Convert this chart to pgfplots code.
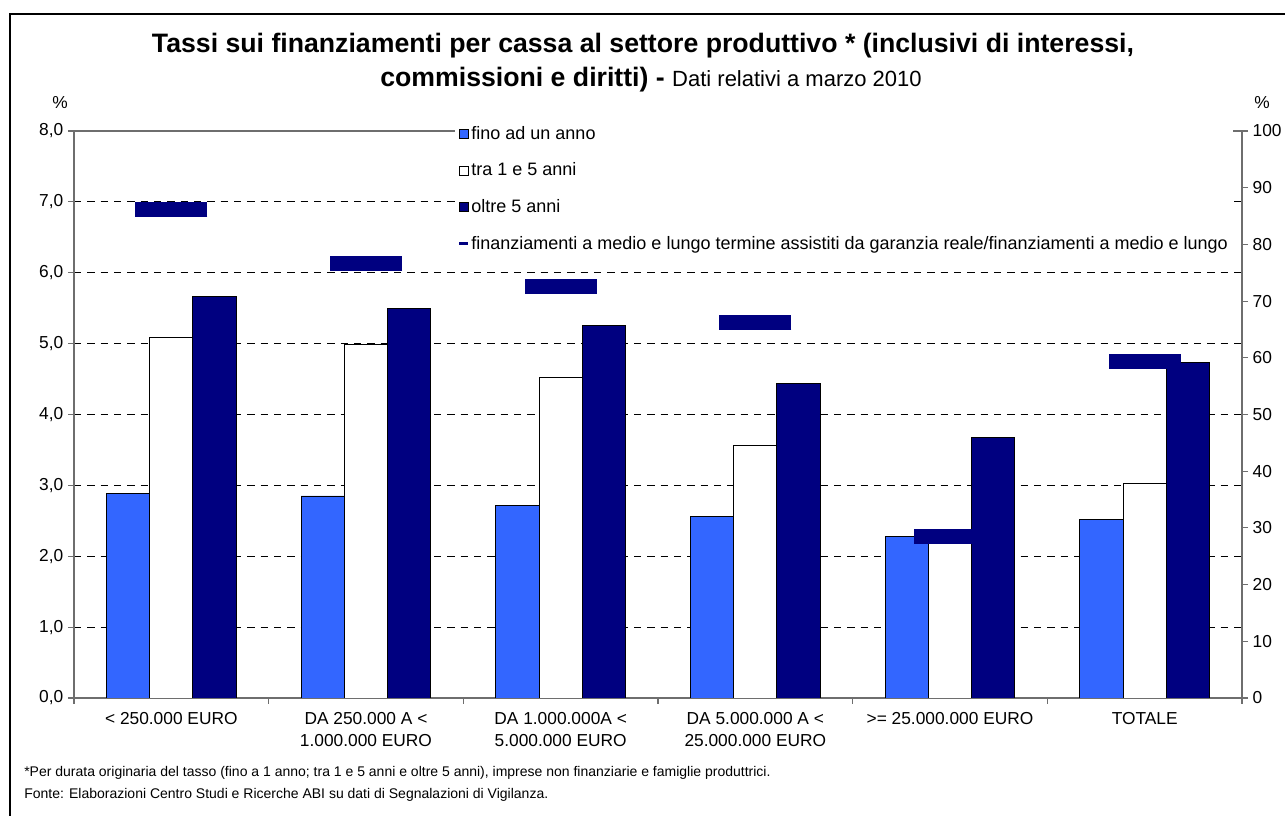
\documentclass[border=0pt]{standalone}
\usepackage{fontspec}
\setmainfont{Liberation Sans}
\usepackage{pgfplots}
\pgfplotsset{compat=1.18}
\definecolor{barblue}{RGB}{51,102,255}
\definecolor{navyb}{RGB}{0,0,128}
\definecolor{axgray}{RGB}{110,110,110}
\begin{document}
\begin{tikzpicture}
\path[use as bounding box] (0,0) rectangle (963.75pt,612pt);
\draw[line width=1.5pt] (7.5pt,0) -- (7.5pt,601.5pt) -- (963.75pt,601.5pt);
\node[font=\bfseries\fontsize{20}{23}\selectfont] at (482.25pt,577.5pt) {Tassi sui finanziamenti per cassa al settore produttivo * (inclusivi di interessi,};
\node[font=\fontsize{20}{23}\selectfont] at (488.25pt,552pt) {\textbf{commissioni e diritti) -} {\fontsize{16.5}{19}\selectfont Dati relativi a marzo 2010}};
\node[font=\fontsize{13}{15}\selectfont] at (45pt,534.75pt) {\%};
\node[font=\fontsize{13}{15}\selectfont] at (946.5pt,534.75pt) {\%};
\node[anchor=west, font=\fontsize{10.5}{12}\selectfont, inner sep=0pt] at (18pt,32.5pt) {*Per durata originaria del tasso (fino a 1 anno; tra 1 e 5 anni e oltre 5 anni), imprese non finanziarie e famiglie produttrici.};
\node[anchor=west, font=\fontsize{10.5}{12}\selectfont, inner sep=0pt] at (18pt,15.5pt) {Fonte: Elaborazioni Centro Studi e Ricerche ABI su dati di Segnalazioni di Vigilanza.};
\begin{axis}[
  at={(55.5pt,88.5pt)}, anchor=south west,
  scale only axis, width=876pt, height=425.25pt,
  xmin=-0.5, xmax=5.5, ymin=0, ymax=8,
  axis line style={axgray, line width=0.8pt},
  tick align=outside, major tick length=4.5pt,
  tick style={axgray, line width=0.8pt},
  xtick pos=bottom, ytick pos=left,
  xtick={-0.5,0.5,...,5.5}, xticklabels={},
  extra x ticks={0,1,2,3,4,5},
  extra x tick labels={{< 250.000 EURO},{DA 250.000 A <\\1.000.000 EURO},{DA 1.000.000A <\\5.000.000 EURO},{DA 5.000.000 A <\\25.000.000 EURO},{>= 25.000.000 EURO},{TOTALE}},
  extra x tick style={major tick length=0pt, xticklabel style={align=center, font=\fontsize{13}{16.5}\selectfont, yshift=-7pt}},
  ytick={1,...,7},
  extra y ticks={0,8},
  extra y tick style={grid=none},
  ymajorgrids,
  major grid style={black, line width=0.6pt, dash pattern=on 5.5pt off 4.5pt},
  /pgf/number format/.cd, fixed, fixed zerofill, precision=1, use comma, assume math mode=true,
  /pgfplots/.cd,
  yticklabel style={font=\fontsize{13}{15}\selectfont},
  legend style={at={(0.326,1.023)}, anchor=north west, draw=none, fill=white,
    font=\fontsize{13.5}{15}\selectfont, row sep=12.2pt, inner xsep=2pt, inner ysep=4pt,
    nodes={inner xsep=1.5pt}},
  legend cell align=left,
]
\addplot[ybar, bar width=32.4pt, bar shift=-32.4pt, fill=barblue, draw=black, line width=0.7pt,
  legend image code/.code={\draw[fill=barblue, draw=black, line width=0.5pt] (0pt,-3.4pt) rectangle (6.8pt,3.4pt);}]
  coordinates {(0,2.88) (1,2.85) (2,2.72) (3,2.56) (4,2.28) (5,2.52)};
\addlegendentry{fino ad un anno}
\addplot[ybar, bar width=32.4pt, bar shift=0pt, fill=white, draw=black, line width=0.7pt,
  legend image code/.code={\draw[fill=white, draw=black, line width=0.5pt] (0pt,-3.4pt) rectangle (6.8pt,3.4pt);}]
  coordinates {(0,5.09) (1,4.99) (2,4.52) (3,3.57) (4,2.25) (5,3.02)};
\addlegendentry{tra 1 e 5 anni}
\addplot[ybar, bar width=32.4pt, bar shift=32.4pt, fill=navyb, draw=black, line width=0.7pt,
  legend image code/.code={\draw[fill=navyb, draw=black, line width=0.5pt] (0pt,-3.4pt) rectangle (6.8pt,3.4pt);}]
  coordinates {(0,5.66) (1,5.50) (2,5.25) (3,4.44) (4,3.67) (5,4.73)};
\addlegendentry{oltre 5 anni}
\addlegendimage{legend image code/.code={\draw[navyb, line width=2pt] (0pt,0pt) -- (6.8pt,0pt);}}
\addlegendentry{finanziamenti a medio e lungo termine assistiti da garanzia reale/finanziamenti a medio e lungo}
\end{axis}
\begin{axis}[
  at={(55.5pt,88.5pt)}, anchor=south west,
  scale only axis, width=876pt, height=425.25pt,
  xmin=-0.5, xmax=5.5, ymin=0, ymax=100,
  axis y line*=right, axis x line=none,
  axis line style={axgray, line width=0.8pt},
  tick align=outside, major tick length=4.5pt,
  tick style={axgray, line width=0.8pt},
  ytick={0,10,...,100},
  yticklabel style={font=\fontsize{13}{15}\selectfont},
  /pgf/number format/assume math mode=true,
]
\addplot[only marks, mark=-, mark size=27pt, mark options={line width=11.25pt, draw=navyb}]
  coordinates {(0,86.1) (1,76.7) (2,72.5) (3,66.3) (4,28.4) (5,59.3)};
\end{axis}
\end{tikzpicture}
\end{document}
